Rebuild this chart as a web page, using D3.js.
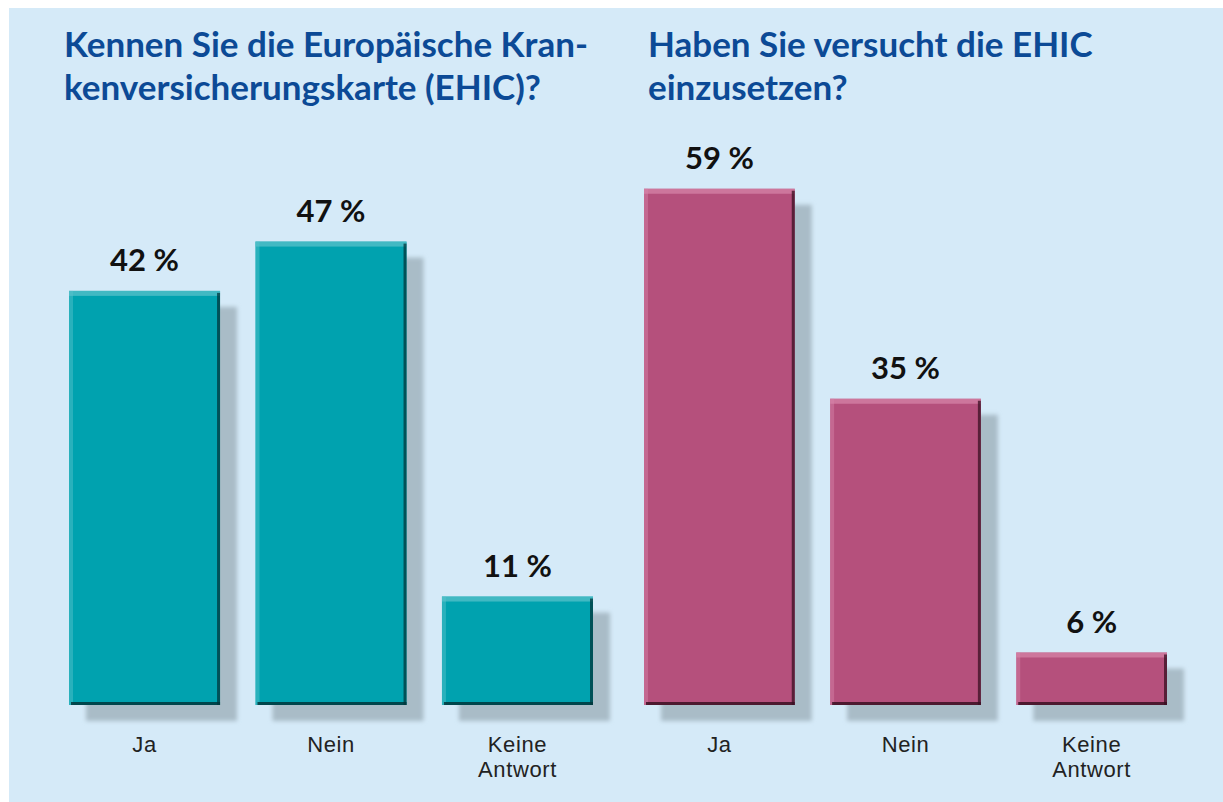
<!DOCTYPE html>
<html>
<head>
<meta charset="utf-8">
<script src="https://cdn.jsdelivr.net/npm/d3@7"></script>
<style>
  body { margin: 0; background: #fff; }
  svg { display: block; }
</style>
</head>
<body>
<div id="chart"></div>
<script>
// data
const categories = ["Ja", "Nein", "Keine Antwort"];
const leftValues = [42, 47, 11];
const rightValues = [59, 35, 6];
const leftTitle = ["Kennen Sie die Europäische Kran-", "kenversicherungskarte (EHIC)?"];
const rightTitle = ["Haben Sie versucht die EHIC", "einzusetzen?"];

const W = 1223, H = 802;
const baseY = 705;

const svg = d3.select("#chart")
  .append("svg")
  .attr("width", W)
  .attr("height", H);

const defs = svg.append("defs");
defs.append("filter")
  .attr("id", "blur")
  .attr("x", "-10%").attr("y", "-10%")
  .attr("width", "120%").attr("height", "120%")
  .append("feGaussianBlur")
  .attr("stdDeviation", 2);

// background panel
svg.append("rect")
  .attr("x", 9).attr("y", 8)
  .attr("width", W - 9).attr("height", H - 8)
  .attr("fill", "#d5eaf8");

const panels = [
  {values: leftValues, title: leftTitle, x0: 69, x1: 593, tx: 64, max: 50, top: 212,
   color: "#00a2af", light: "#5cc3cc", dark: "#00363b"},
  {values: rightValues, title: rightTitle, x0: 644, x1: 1167, tx: 648, max: 60, top: 180,
   color: "#b5507c", light: "#d786aa", dark: "#3a0f22"}
];

panels.forEach(p => {
  const data = categories.map((c, i) => ({group: c, value: p.values[i]}));

  const x = d3.scaleBand()
    .domain(categories)
    .range([p.x0, p.x1])
    .paddingInner(0.19)
    .paddingOuter(0);

  const y = d3.scaleLinear()
    .domain([0, p.max])
    .range([baseY, p.top]);

  const g = svg.append("g");

  // title
  g.append("text")
    .attr("x", p.tx)
    .attr("y", 57)
    .attr("font-family", "Lato, sans-serif")
    .attr("font-weight", "bold")
    .attr("font-size", 35)
    .attr("fill", "#0c4a96")
    .selectAll("tspan")
    .data(p.title)
    .join("tspan")
    .attr("x", p.tx)
    .attr("dy", (d, i) => i ? 43 : 0)
    .text(d => d);

  // shadows
  g.selectAll(".shadow")
    .data(data)
    .join("rect")
    .attr("class", "shadow")
    .attr("x", d => x(d.group) + 17)
    .attr("y", d => y(d.value) + 16)
    .attr("width", x.bandwidth())
    .attr("height", d => baseY - y(d.value))
    .attr("fill", "#a9bcc7")
    .attr("filter", "url(#blur)");

  // bars
  g.selectAll(".bar")
    .data(data)
    .join("rect")
    .attr("class", "bar")
    .attr("x", d => x(d.group))
    .attr("y", d => y(d.value))
    .attr("width", x.bandwidth())
    .attr("height", d => baseY - y(d.value))
    .attr("fill", p.color);

  // bevel edges
  g.selectAll(".hiTop")
    .data(data)
    .join("rect")
    .attr("x", d => x(d.group))
    .attr("y", d => y(d.value))
    .attr("width", x.bandwidth())
    .attr("height", 5)
    .attr("fill", p.light)
    .attr("opacity", 0.7);
  g.selectAll(".hiLeft")
    .data(data)
    .join("rect")
    .attr("x", d => x(d.group))
    .attr("y", d => y(d.value))
    .attr("width", 4)
    .attr("height", d => baseY - y(d.value))
    .attr("fill", p.light)
    .attr("opacity", 0.45);
  g.selectAll(".dkRight")
    .data(data)
    .join("rect")
    .attr("x", d => x(d.group) + x.bandwidth() - 3)
    .attr("y", d => y(d.value) + 2)
    .attr("width", 3)
    .attr("height", d => baseY - y(d.value) - 2)
    .attr("fill", p.dark)
    .attr("opacity", 0.75);
  g.selectAll(".dkBottom")
    .data(data)
    .join("rect")
    .attr("x", d => x(d.group) + 2)
    .attr("y", baseY - 3)
    .attr("width", x.bandwidth() - 2)
    .attr("height", 3)
    .attr("fill", p.dark)
    .attr("opacity", 0.85);

  // value labels
  g.selectAll(".val")
    .data(data)
    .join("text")
    .attr("x", d => x(d.group) + x.bandwidth() / 2)
    .attr("y", d => y(d.value) - 20)
    .attr("text-anchor", "middle")
    .attr("font-family", "Lato, sans-serif")
    .attr("font-weight", "bold")
    .attr("font-size", 31)
    .attr("fill", "#111")
    .text(d => d.value + " %");

  // category labels
  g.selectAll(".cat")
    .data(data)
    .join("text")
    .attr("text-anchor", "middle")
    .attr("font-family", "'Liberation Sans', Arial, sans-serif")
    .attr("font-size", 22)
    .attr("letter-spacing", 0.6)
    .attr("fill", "#222")
    .each(function(d) {
      const cx = x(d.group) + x.bandwidth() / 2;
      d3.select(this).selectAll("tspan")
        .data(d.group.split(" "))
        .join("tspan")
        .attr("x", cx)
        .attr("y", (w, i) => 752 + i * 25)
        .text(w => w);
    });
});
</script>
</body>
</html>
